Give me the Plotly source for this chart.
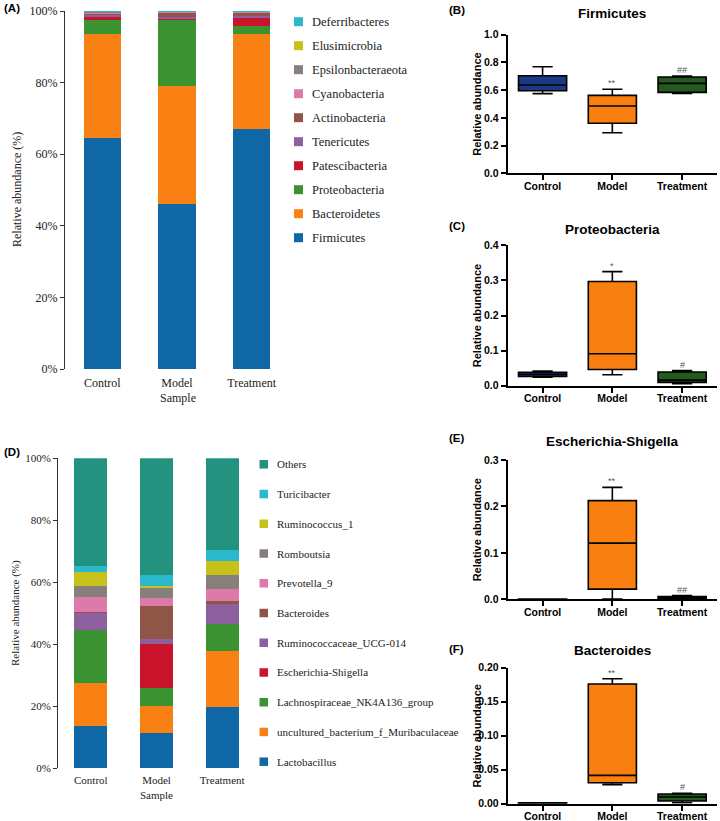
import plotly.graph_objects as go

W, H = 720, 821

# ---------------- data ----------------
samples = ["Control", "Model", "Treatment"]

phyla = ["Firmicutes", "Bacteroidetes", "Proteobacteria", "Patescibacteria", "Tenericutes",
         "Actinobacteria", "Cyanobacteria", "Epsilonbacteraeota", "Elusimicrobia", "Deferribacteres"]
phyla_control = [64.5, 29.2, 3.8, 1.1, 0.5, 0.3, 0.2, 0.3, 0.05, 0.05]
phyla_model = [46.1, 33.0, 18.6, 0.3, 0.4, 1.2, 0.2, 0.1, 0.05, 0.05]
phyla_treatment = [67.0, 26.5, 2.3, 2.2, 0.7, 0.9, 0.2, 0.1, 0.05, 0.05]
phyla_colors = ["#1067a5", "#f98013", "#3a9231", "#c9142c", "#8e5f9e",
                "#8f5647", "#dd7aa9", "#867f7c", "#c7c11b", "#2bb8cd"]

genera = ["Lactobacillus", "uncultured_bacterium_f_Muribaculaceae", "Lachnospiraceae_NK4A136_group",
          "Escherichia-Shigella", "Ruminococcaceae_UCG-014", "Bacteroides", "Prevotella_9",
          "Romboutsia", "Ruminococcus_1", "Turicibacter", "Others"]
genus_control = [13.7, 13.8, 17.1, 0.1, 5.6, 0.1, 5.0, 3.4, 4.6, 1.7, 34.9]
genus_model = [11.5, 8.6, 5.9, 14.2, 1.6, 10.6, 2.5, 3.1, 0.7, 3.7, 37.6]
genus_treatment = [19.9, 17.9, 8.7, 0.1, 6.4, 1.1, 3.8, 4.6, 4.4, 3.6, 29.5]
genus_colors = ["#1067a5", "#f98013", "#3a9231", "#c9142c", "#8e5f9e", "#8f5647",
                "#dd7aa9", "#867f7c", "#c7c11b", "#2bb8cd", "#23927f"]

box_colors = ["#1b3a86", "#f98010", "#245a1d"]

# box statistics per group: lowerfence, q1, median, q3, upperfence
firm_low = [0.575, 0.293, 0.577]
firm_q1 = [0.596, 0.361, 0.584]
firm_med = [0.637, 0.486, 0.649]
firm_q3 = [0.704, 0.562, 0.695]
firm_high = [0.769, 0.606, 0.702]
firm_sig = ["", "**", "##"]

prot_low = [0.024, 0.031, 0.006]
prot_q1 = [0.026, 0.046, 0.0095]
prot_med = [0.032, 0.091, 0.016]
prot_q3 = [0.038, 0.297, 0.039]
prot_high = [0.042, 0.325, 0.043]
prot_sig = ["", "*", "#"]

esch_low = [0.0003, 0.0007, 0.001]
esch_q1 = [0.0004, 0.022, 0.002]
esch_med = [0.0005, 0.121, 0.0036]
esch_q3 = [0.0006, 0.2125, 0.0057]
esch_high = [0.0007, 0.241, 0.0079]
esch_sig = ["", "**", "##"]

bact_low = [0.0006, 0.028, 0.0015]
bact_q1 = [0.0008, 0.0309, 0.0039]
bact_med = [0.001, 0.0417, 0.0098]
bact_q3 = [0.0012, 0.176, 0.0142]
bact_high = [0.0014, 0.1838, 0.0152]
bact_sig = ["", "**", "#"]

# ---------------- helpers ----------------
def px(x):
    return x / W


def py(y):
    return 1 - y / H


SERIF = "Liberation Serif, Times New Roman, serif"
SANS = "Liberation Sans, Arial, sans-serif"

fig = go.Figure()
annotations = []
shapes = []

# ---------------- stacked bar panels ----------------
def add_stack(names, cols, series, xa, ya):
    for i, name in enumerate(names):
        fig.add_trace(go.Bar(
            x=samples, y=[s[i] for s in series], name=name,
            marker=dict(color=cols[i], line=dict(width=0)),
            xaxis=xa, yaxis=ya, showlegend=False))


add_stack(phyla, phyla_colors, [phyla_control, phyla_model, phyla_treatment], "x", "y")
add_stack(genera, genus_colors, [genus_control, genus_model, genus_treatment], "x4", "y4")


def manual_legend(names, cols, x0, y_top, step, sq, fsize):
    for k, name in enumerate(reversed(names)):
        col = list(reversed(cols))[k]
        yc = y_top + k * step
        shapes.append(dict(type="rect", xref="paper", yref="paper",
                           x0=px(x0), x1=px(x0 + sq), y0=py(yc + sq / 2), y1=py(yc - sq / 2),
                           fillcolor=col, line=dict(width=0)))
        annotations.append(dict(xref="paper", yref="paper", x=px(x0 + sq + 7), y=py(yc),
                                text=name, showarrow=False, xanchor="left", yanchor="middle",
                                font=dict(family=SERIF, size=fsize, color="#222")))


manual_legend(phyla, phyla_colors, 294, 21.7, 24.0, 9, 12.5)
manual_legend(genera, genus_colors, 259.5, 464.3, 29.74, 8.5, 11)

# ---------------- box panels ----------------
def add_boxes(low, q1, med, q3, high, sig, xa, ya):
    for i, s in enumerate(samples):
        fig.add_trace(go.Box(
            x=[s], lowerfence=[low[i]], q1=[q1[i]], median=[med[i]], q3=[q3[i]],
            upperfence=[high[i]], fillcolor=box_colors[i],
            line=dict(color="black", width=1.6), whiskerwidth=0.42, width=0.69,
            boxpoints=False, xaxis=xa, yaxis=ya, showlegend=False, name=s))
        if sig[i]:
            annotations.append(dict(xref=xa, yref=ya, x=s, y=high[i], text=sig[i],
                                    showarrow=False, xanchor="center", yanchor="bottom", yshift=-1,
                                    font=dict(family=SANS, size=9, color="#555")))


add_boxes(firm_low, firm_q1, firm_med, firm_q3, firm_high, firm_sig, "x2", "y2")
add_boxes(prot_low, prot_q1, prot_med, prot_q3, prot_high, prot_sig, "x3", "y3")
add_boxes(esch_low, esch_q1, esch_med, esch_q3, esch_high, esch_sig, "x5", "y5")
add_boxes(bact_low, bact_q1, bact_med, bact_q3, bact_high, bact_sig, "x6", "y6")

# ---------------- axes ----------------
bar_x = dict(type="category", range=[-0.5, 2.5], showline=False, ticks="", showgrid=False,
             zeroline=False, automargin=False)
bar_y = dict(range=[0, 100], showline=True, linecolor="#333", linewidth=1, ticks="outside",
             ticklen=4, tickwidth=1, tickcolor="#333", showgrid=False, zeroline=False,
             automargin=False,
             tickvals=[0, 20, 40, 60, 80, 100], ticktext=["0%", "20%", "40%", "60%", "80%", "100%"])

layout_axes = {}
layout_axes["xaxis"] = dict(bar_x, domain=[px(65), px(289)], anchor="y", ticklabelstandoff=5,
                            tickfont=dict(family=SERIF, size=12, color="#222"))
layout_axes["yaxis"] = dict(bar_y, domain=[py(369), py(11)], anchor="x",
                            tickfont=dict(family=SERIF, size=12, color="#222"))
layout_axes["xaxis4"] = dict(bar_x, domain=[px(58), px(255)], anchor="y4", ticklabelstandoff=4,
                             tickfont=dict(family=SERIF, size=11, color="#222"))
layout_axes["yaxis4"] = dict(bar_y, domain=[py(768.3), py(458.3)], anchor="x4",
                             tickfont=dict(family=SERIF, size=11, color="#222"))

box_x = dict(type="category", range=[-0.5, 2.5], showline=True, linecolor="black", linewidth=2,
             ticks="outside", ticklen=5, tickwidth=2, tickcolor="black", showgrid=False,
             zeroline=False, automargin=False, ticklabelstandoff=-3,
             tickfont=dict(family=SANS, size=10.5, color="black", weight="bold"))
box_y = dict(showline=True, linecolor="black", linewidth=2, ticks="outside", ticklen=5,
             tickwidth=2, tickcolor="black", showgrid=False, zeroline=False, automargin=False,
             tickfont=dict(family=SANS, size=10.5, color="black", weight="bold"))

box_panels = [
    ("2", 173.3, 34.7, [0, 1.0], 0.2, ".1f"),
    ("3", 385.7, 245.3, [0, 0.4], 0.1, ".1f"),
    ("5", 599.3, 460.0, [0, 0.3], 0.1, ".1f"),
    ("6", 803.7, 667.7, [0, 0.2], 0.05, ".2f"),
]
for n, yb, yt, rng, dt, fmt in box_panels:
    layout_axes["xaxis" + n] = dict(box_x, domain=[px(507.7), px(717)], anchor="y" + n)
    layout_axes["yaxis" + n] = dict(box_y, domain=[py(yb), py(yt)], anchor="x" + n,
                                    range=rng, dtick=dt, tick0=0, tickformat=fmt)
    annotations.append(dict(xref="paper", yref="paper", x=px(476.7), y=py((yb + yt) / 2),
                            text="Relative abundance", textangle=-90, showarrow=False,
                            xanchor="center", yanchor="middle",
                            font=dict(family=SANS, size=11, color="black", weight="bold")))

# ---------------- titles / labels ----------------
titles = [("Firmicutes", 13.5), ("Proteobacteria", 229), ("Escherichia-Shigella", 441),
          ("Bacteroides", 650)]
for t, yc in titles:
    annotations.append(dict(xref="paper", yref="paper", x=px(612), y=py(yc), text=t,
                            showarrow=False, xanchor="center", yanchor="middle",
                            font=dict(family=SANS, size=13.5, color="black", weight="bold")))

panel_labels = [("(A)", 2, 8), ("(B)", 447, 10), ("(C)", 447, 226.5), ("(D)", 2, 452),
                ("(E)", 447, 438), ("(F)", 447, 649)]
for t, x, y in panel_labels:
    annotations.append(dict(xref="paper", yref="paper", x=px(x), y=py(y), text=t,
                            showarrow=False, xanchor="left", yanchor="middle",
                            font=dict(family=SANS, size=11.5, color="black", weight="bold")))

# bar panel y titles and x titles
annotations.append(dict(xref="paper", yref="paper", x=px(17), y=py(190),
                        text="Relative abundance (%)", textangle=-90, showarrow=False,
                        xanchor="center", yanchor="middle",
                        font=dict(family=SERIF, size=12, color="#222")))
annotations.append(dict(xref="paper", yref="paper", x=px(15), y=py(613),
                        text="Relative abundance (%)", textangle=-90, showarrow=False,
                        xanchor="center", yanchor="middle",
                        font=dict(family=SERIF, size=11, color="#222")))
annotations.append(dict(xref="paper", yref="paper", x=px(177.5), y=py(398),
                        text="Sample", showarrow=False, xanchor="center", yanchor="middle",
                        font=dict(family=SERIF, size=12, color="#222")))
annotations.append(dict(xref="paper", yref="paper", x=px(156.3), y=py(794.5),
                        text="Sample", showarrow=False, xanchor="center", yanchor="middle",
                        font=dict(family=SERIF, size=11, color="#222")))

fig.update_layout(
    width=W, height=H, margin=dict(l=0, r=0, t=0, b=0, autoexpand=False),
    paper_bgcolor="white", plot_bgcolor="white",
    barmode="stack", bargap=0.5, boxmode="overlay", hovermode=False,
    showlegend=False, annotations=annotations, shapes=shapes,
    **layout_axes,
)

fig.write_html("out.html", config={"displayModeBar": False},
               post_script="document.body.style.margin='0';document.body.style.overflow='hidden';")
